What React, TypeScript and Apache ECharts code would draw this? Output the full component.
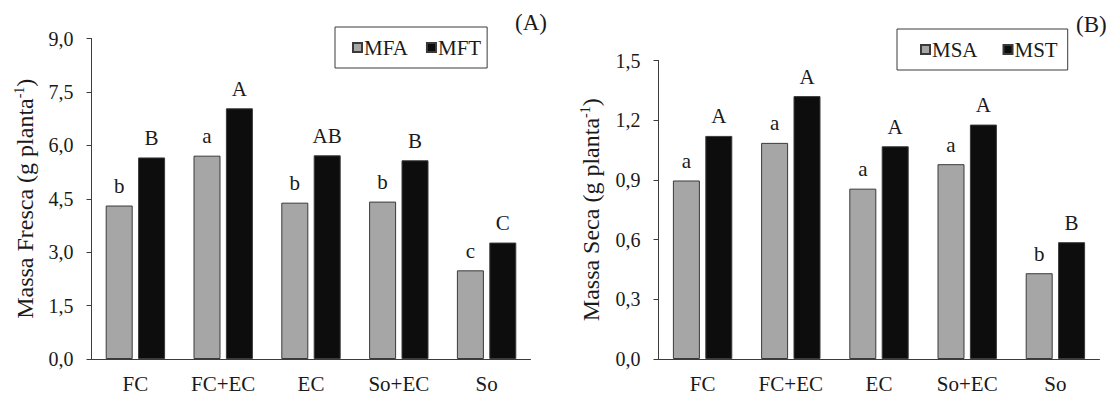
import React, { useEffect, useRef } from "react";
import * as echarts from "echarts";

const categories = ["FC", "FC+EC", "EC", "So+EC", "So"];

const mfa = [4.31, 5.71, 4.39, 4.42, 2.49];
const mft = [5.66, 7.04, 5.72, 5.58, 3.27];
const mfaLetters = ["b", "a", "b", "b", "c"];
const mftLetters = ["B", "A", "AB", "B", "C"];

const msa = [0.897, 1.086, 0.856, 0.979, 0.431];
const mst = [1.121, 1.321, 1.069, 1.178, 0.587];
const msaLetters = ["a", "a", "a", "a", "b"];
const mstLetters = ["A", "A", "A", "A", "B"];

const FONT = "Liberation Serif";
const TXT = "#1a1a1a";
const AXIS = "#3c3c3c";
const GRAY = "#a6a6a6";
const BLACK = "#0d0d0d";

function fmt(v: number) {
  return v.toFixed(1).replace(".", ",");
}

function barSeries(name: string, data: number[], letters: string[], idx: number, gray: boolean) {
  return {
    name,
    type: "bar",
    xAxisIndex: idx,
    yAxisIndex: idx,
    data,
    barWidth: 27,
    barGap: "20%",
    itemStyle: {
      color: gray ? GRAY : BLACK,
      borderColor: "#3a3a3a",
      borderWidth: 1,
    },
    label: {
      show: true,
      position: "top",
      distance: 9,
      color: TXT,
      fontFamily: FONT,
      fontSize: 21,
      formatter: (p: any) => letters[p.dataIndex],
    },
  };
}

function yAxis(idx: number, max: number, interval: number, title: string, gap: number) {
  return {
    type: "value",
    gridIndex: idx,
    min: 0,
    max,
    interval,
    splitLine: { show: false },
    axisLine: { show: true, lineStyle: { color: AXIS, width: 1 } },
    axisTick: { show: true, length: 5, lineStyle: { color: AXIS } },
    axisLabel: {
      margin: 18,
      color: TXT,
      fontFamily: FONT,
      fontSize: 20,
      formatter: (v: number) => fmt(v),
    },
    name: `{t|${title}}{s|-1}{t|)}`,
    nameLocation: "middle",
    nameGap: gap,
    nameTextStyle: {
      rich: {
        t: { fontFamily: FONT, fontSize: 24, color: TXT },
        s: { fontFamily: FONT, fontSize: 14, color: TXT, verticalAlign: "top" },
      },
    },
  };
}

function xAxis(idx: number) {
  return {
    type: "category",
    gridIndex: idx,
    data: categories,
    axisLine: { show: true, lineStyle: { color: AXIS, width: 1 } },
    axisTick: { show: false },
    axisLabel: {
      margin: 14,
      color: TXT,
      fontFamily: FONT,
      fontSize: 21,
      interval: 0,
    },
  };
}

export default function App() {
  const ref = useRef<HTMLDivElement>(null);
  useEffect(() => {
    if (!ref.current) return;
    const chart = echarts.init(ref.current, undefined, { renderer: "svg" });
    chart.setOption({
      animation: false,
      backgroundColor: "#ffffff",
      grid: [
        { left: 91.5, top: 38.5, width: 439, height: 321 },
        { left: 658.5, top: 60.5, width: 441, height: 298.5 },
      ],
      xAxis: [xAxis(0), xAxis(1)],
      yAxis: [
        yAxis(0, 9, 1.5, "Massa Fresca (g planta", 55),
        yAxis(1, 1.5, 0.3, "Massa Seca (g planta", 56),
      ],
      legend: [
        {
          data: ["MFA", "MFT"],
          left: 335,
          top: 27,
          orient: "horizontal",
          padding: [10, 6, 10, 17],
          itemGap: 18,
          itemWidth: 9,
          itemHeight: 9,
          icon: "rect",
          borderColor: "#3a3a3a",
          borderWidth: 1,
          textStyle: { fontFamily: FONT, fontSize: 21, color: TXT, padding: [0, 0, 0, -3] },
        },
        {
          data: ["MSA", "MST"],
          left: 897,
          top: 29,
          orient: "horizontal",
          padding: [10, 10, 10, 23],
          itemGap: 25,
          itemWidth: 9,
          itemHeight: 9,
          icon: "rect",
          borderColor: "#3a3a3a",
          borderWidth: 1,
          textStyle: { fontFamily: FONT, fontSize: 21, color: TXT, padding: [0, 0, 0, -3] },
        },
      ],
      graphic: [
        {
          type: "text",
          left: 515,
          top: 11,
          style: { text: "(A)", fontFamily: FONT, fontSize: 23, fill: TXT },
        },
        {
          type: "text",
          left: 1076,
          top: 13,
          style: { text: "(B)", fontFamily: FONT, fontSize: 23, fill: TXT },
        },
      ],
      series: [
        barSeries("MFA", mfa, mfaLetters, 0, true),
        barSeries("MFT", mft, mftLetters, 0, false),
        barSeries("MSA", msa, msaLetters, 1, true),
        barSeries("MST", mst, mstLetters, 1, false),
      ],
    });
    return () => chart.dispose();
  }, []);
  return (
    <div
      ref={ref}
      style={{ position: "absolute", left: 0, top: 0, width: 1116, height: 394, background: "#fff" }}
    />
  );
}
